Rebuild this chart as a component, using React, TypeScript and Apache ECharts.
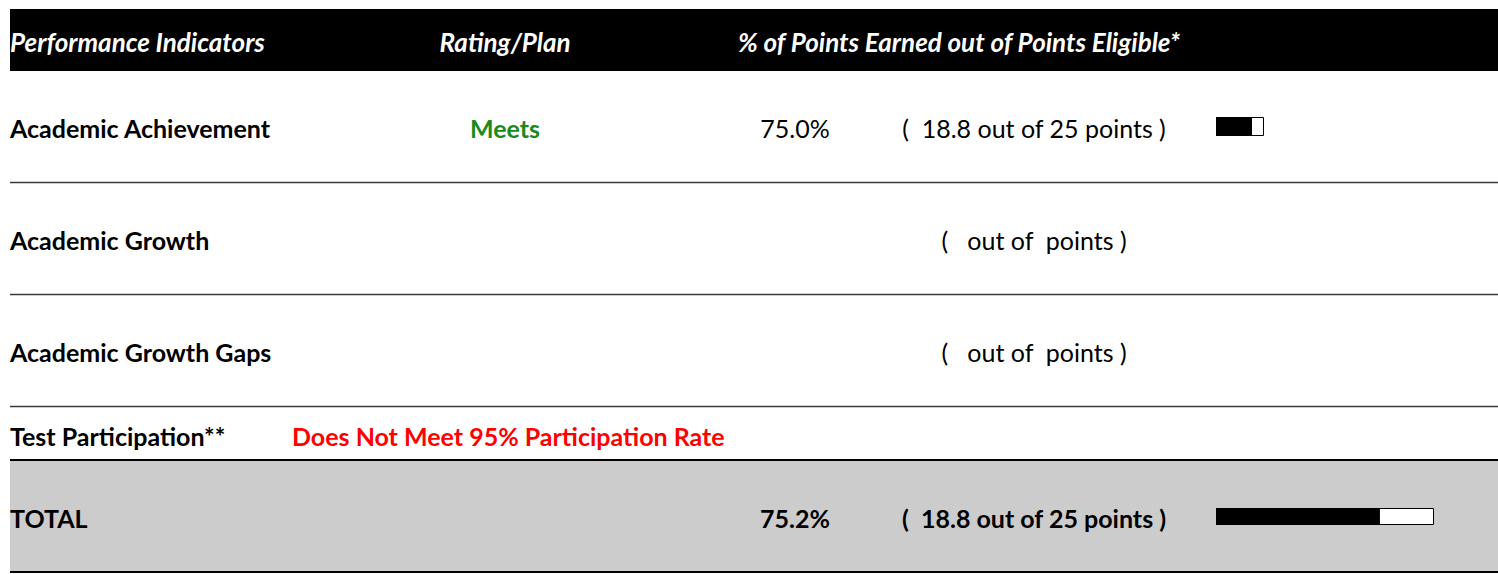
import React, { useEffect, useRef } from "react";
import * as echarts from "echarts";

const headers = ["Performance Indicators", "Rating/Plan", "% of Points Earned out of Points Eligible*"];
const indicators = ["Academic Achievement", "Academic Growth", "Academic Growth Gaps"];
const ratings = ["Meets", "", ""];
const pctEarned: (number | null)[] = [75.0, null, null];
const pointsEarned: (number | null)[] = [18.8, null, null];
const pointsEligible: (number | null)[] = [25, null, null];
const participationLabel = "Test Participation**";
const participationRating = "Does Not Meet 95% Participation Rate";
const totalLabel = "TOTAL";
const totalPct = 75.2;
const totalEarned = 18.8;
const totalEligible = 25;

const FONT = "Lato, 'Open Sans', sans-serif";
const FS = 25;

export default function App() {
  const ref = useRef<HTMLDivElement>(null);
  useEffect(() => {
    document.body.style.margin = "0";
    const chart = echarts.init(ref.current!, null, { renderer: "svg" });
    const rowY = [128, 240, 352];
    const lineY = [182.5, 294.5, 406.5];
    const g: any[] = [];
    g.push({ type: "rect", shape: { x: 10, y: 9, width: 1488, height: 62 }, style: { fill: "#000" } });
    const hx = [10, 505, 738];
    const ha = ["left", "center", "left"];
    headers.forEach((h, i) => {
      g.push({
        type: "text", x: hx[i], y: 42,
        style: { text: h, fill: "#fff", font: `italic bold 26px ${FONT}`, textAlign: ha[i], textVerticalAlign: "middle" },
      });
    });
    const txt = (x: number, y: number, text: string, opts: { bold?: boolean; color?: string; align?: string } = {}) => ({
      type: "text", x, y,
      style: {
        text, fill: opts.color || "#000", font: `${opts.bold ? "bold " : ""}${FS}px ${FONT}`,
        textAlign: opts.align || "left", textVerticalAlign: "middle",
      },
    });
    indicators.forEach((name, i) => {
      g.push(txt(10, rowY[i], name, { bold: true }));
      if (ratings[i]) g.push(txt(505, rowY[i], ratings[i], { bold: true, color: "#1a8a1a", align: "center" }));
      if (pctEarned[i] != null) g.push(txt(795, rowY[i], pctEarned[i]!.toFixed(1) + "%", { align: "center" }));
      const e = pointsEarned[i] != null ? String(pointsEarned[i]) : "";
      const el = pointsEligible[i] != null ? String(pointsEligible[i]) : "";
      g.push(txt(1034, rowY[i], `(  ${e} out of ${el} points )`, { align: "center" }));
      g.push({ type: "line", shape: { x1: 10, y1: lineY[i], x2: 1498, y2: lineY[i] }, style: { stroke: "#3a3a3a", lineWidth: 1.6 } });
    });
    g.push(txt(10, 436, participationLabel, { bold: true }));
    g.push(txt(292, 436, participationRating, { bold: true, color: "#ff0000" }));
    g.push({ type: "rect", z: -1, shape: { x: 10, y: 461, width: 1488, height: 110 }, style: { fill: "#cccccc" } });
    g.push({ type: "line", shape: { x1: 10, y1: 460, x2: 1498, y2: 460 }, style: { stroke: "#000", lineWidth: 2 } });
    g.push({ type: "line", shape: { x1: 10, y1: 572, x2: 1498, y2: 572 }, style: { stroke: "#000", lineWidth: 2 } });
    g.push(txt(10, 518, totalLabel, { bold: true }));
    g.push(txt(795, 518, totalPct.toFixed(1) + "%", { bold: true, align: "center" }));
    g.push(txt(1034, 518, `(  ${totalEarned} out of ${totalEligible} points )`, { bold: true, align: "center" }));

    const barGrids = [
      { left: 1216, top: 117, width: 48, height: 19, value: pctEarned[0] ?? 0 },
      { left: 1216, top: 508, width: 218, height: 17, value: totalPct },
    ];
    const option: any = {
      animation: false,
      graphic: { elements: g },
      grid: barGrids.map((b) => ({ left: b.left, top: b.top, width: b.width, height: b.height, containLabel: false })),
      xAxis: barGrids.map((_, i) => ({ type: "value", gridIndex: i, min: 0, max: 100, show: false })),
      yAxis: barGrids.map((_, i) => ({ type: "category", gridIndex: i, data: [""], show: false })),
      series: barGrids.flatMap((b, i) => [
        {
          type: "bar", xAxisIndex: i, yAxisIndex: i, data: [100], barWidth: "100%", barGap: "-100%", z: 1,
          itemStyle: { color: "#fff", borderColor: "#000", borderWidth: 1 }, silent: true,
        },
        {
          type: "bar", xAxisIndex: i, yAxisIndex: i, data: [b.value], barWidth: "100%", z: 2,
          itemStyle: { color: "#000" }, silent: true,
        },
      ]),
    };
    chart.setOption(option);
    return () => chart.dispose();
  }, []);
  return <div ref={ref} style={{ width: 1498, height: 574 }} />;
}
